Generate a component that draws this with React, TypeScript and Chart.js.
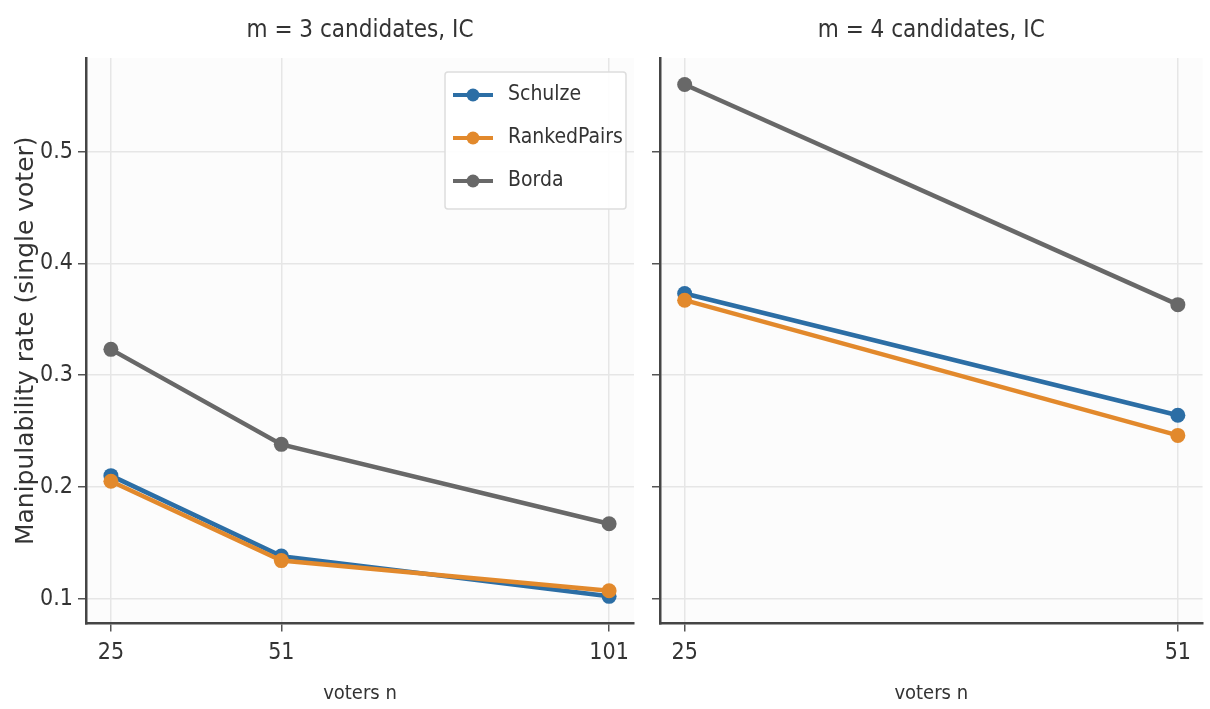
import React, { useEffect, useRef } from "react";
import { Chart, registerables } from "chart.js";

Chart.register(...registerables);

// ---------- data ----------
const seriesNames = ["Schulze", "RankedPairs", "Borda"];
const seriesColors = ["#2c6ea5", "#e2892c", "#686868"];

const votersM3 = [25, 51, 101];
const schulzeM3 = [0.21, 0.138, 0.102];
const rankedPairsM3 = [0.205, 0.134, 0.107];
const bordaM3 = [0.323, 0.238, 0.167];

const votersM4 = [25, 51];
const schulzeM4 = [0.373, 0.264];
const rankedPairsM4 = [0.367, 0.246];
const bordaM4 = [0.56, 0.363];

const yTicks = [0.1, 0.2, 0.3, 0.4, 0.5];
const panelTitles = ["m = 3 candidates, IC", "m = 4 candidates, IC"];
const xAxisLabel = "voters n";
const yAxisLabel = "Manipulability rate (single voter)";

// ---------- styling ----------
const NARROW = "'Liberation Sans Narrow', 'DejaVu Sans Condensed', 'Liberation Sans', sans-serif";
const WIDE = "'DejaVu Sans', 'Liberation Sans', sans-serif";
const TEXT = "#333333";

const bgPlugin = {
  id: "plotBg",
  beforeDraw(chart: any) {
    const { ctx, chartArea } = chart;
    ctx.save();
    ctx.fillStyle = "#ffffff";
    ctx.fillRect(0, 0, chart.width, chart.height);
    ctx.fillStyle = "#fcfcfc";
    ctx.fillRect(chartArea.left, chartArea.top, chartArea.right - chartArea.left, chartArea.bottom - chartArea.top);
    ctx.restore();
  },
};

const legendPlugin = {
  id: "boxLegend",
  afterDraw(chart: any) {
    const { ctx, chartArea } = chart;
    const boxRight = chartArea.right - 8;
    const boxLeft = boxRight - 181;
    const boxTop = chartArea.top + 14;
    const boxH = 137;
    ctx.save();
    ctx.beginPath();
    ctx.roundRect(boxLeft, boxTop, boxRight - boxLeft, boxH, 3);
    ctx.fillStyle = "rgba(255,255,255,0.9)";
    ctx.fill();
    ctx.strokeStyle = "#dddddd";
    ctx.lineWidth = 1.5;
    ctx.stroke();
    seriesNames.forEach((name, i) => {
      const y = boxTop + 23 + i * 43;
      ctx.strokeStyle = seriesColors[i];
      ctx.lineWidth = 4;
      ctx.beginPath();
      ctx.moveTo(boxLeft + 8, y);
      ctx.lineTo(boxLeft + 48, y);
      ctx.stroke();
      ctx.fillStyle = seriesColors[i];
      ctx.beginPath();
      ctx.arc(boxLeft + 28, y, 6.5, 0, Math.PI * 2);
      ctx.fill();
      ctx.fillStyle = TEXT;
      ctx.font = `21px ${NARROW}`;
      ctx.textBaseline = "middle";
      ctx.textAlign = "left";
      ctx.fillText(name, boxLeft + 63, y);
    });
    ctx.restore();
  },
};

function makeDatasets(xs: number[], series: number[][]) {
  return series.map((vals, i) => ({
    label: seriesNames[i],
    data: vals.map((v, k) => ({ x: xs[k], y: v })),
    borderColor: seriesColors[i],
    backgroundColor: seriesColors[i],
    borderWidth: 4.5,
    pointRadius: 7.5,
    pointBorderWidth: 0,
    pointHoverRadius: 7.5,
    order: 3 - i,
    tension: 0,
  }));
}

function makeConfig(panel: number): any {
  const xs = panel === 0 ? votersM3 : votersM4;
  const series = panel === 0 ? [schulzeM3, rankedPairsM3, bordaM3] : [schulzeM4, rankedPairsM4, bordaM4];
  const span = xs[xs.length - 1] - xs[0];
  const yAxisWidth = panel === 0 ? 86 : 12;
  return {
    type: "line",
    data: { datasets: makeDatasets(xs, series) },
    plugins: panel === 0 ? [bgPlugin, legendPlugin] : [bgPlugin],
    options: {
      animation: false,
      responsive: false,
      devicePixelRatio: 1,
      layout: { padding: { left: 0, right: panel === 0 ? 14 : 0, top: 0, bottom: 0 } },
      plugins: {
        legend: { display: false },
        tooltip: { enabled: false },
        title: {
          display: true,
          text: panelTitles[panel],
          fullSize: false,
          color: TEXT,
          font: { family: NARROW, size: 24, weight: "normal", lineHeight: 1.2 },
          padding: { top: 16, bottom: 13.2 },
        },
      },
      scales: {
        x: {
          type: "linear",
          min: xs[0] - span * 0.05,
          max: xs[xs.length - 1] + span * 0.05,
          afterBuildTicks: (scale: any) => {
            scale.ticks = xs.map((v) => ({ value: v }));
          },
          afterFit: (scale: any) => {
            scale.height = 85.5;
          },
          ticks: {
            color: TEXT,
            padding: 8,
            font: { family: NARROW, size: 23 },
            callback: (v: any) => String(v),
            maxRotation: 0,
          },
          grid: {
            color: "#e6e6e6",
            lineWidth: 1.5,
            drawTicks: true,
            tickLength: 8,
            tickColor: "#555555",
            tickWidth: 1.5,
          },
          border: { display: true, color: "#454545", width: 2.5 },
          title: {
            display: true,
            text: xAxisLabel,
            color: TEXT,
            font: { family: NARROW, size: 20, lineHeight: 1.2 },
            padding: { top: 0, bottom: 3 },
          },
        },
        y: {
          type: "linear",
          min: 0.0777,
          max: 0.5837,
          afterBuildTicks: (scale: any) => {
            scale.ticks = yTicks.map((v) => ({ value: v }));
          },
          afterFit: (scale: any) => {
            scale.width = yAxisWidth;
          },
          ticks: {
            display: panel === 0,
            color: TEXT,
            padding: 5,
            font: { family: NARROW, size: 23 },
            callback: (v: any) => Number(v).toFixed(1),
          },
          grid: {
            color: "#e6e6e6",
            lineWidth: 1.5,
            drawTicks: true,
            tickLength: 8,
            tickColor: "#555555",
            tickWidth: 1.5,
          },
          border: { display: true, color: "#454545", width: 2.5 },
          title: {
            display: panel === 0,
            text: yAxisLabel,
            color: TEXT,
            font: { family: WIDE, size: 25, lineHeight: 1.2 },
            padding: { top: 11, bottom: 0 },
          },
        },
      },
    },
  };
}

function Panel({ panel, left, width }: { panel: number; left: number; width: number }) {
  const ref = useRef<HTMLCanvasElement | null>(null);
  useEffect(() => {
    if (!ref.current) return;
    const chart = new Chart(ref.current, makeConfig(panel));
    return () => chart.destroy();
  }, [panel]);
  return (
    <canvas
      ref={ref}
      width={width}
      height={709}
      style={{ position: "absolute", left, top: 0, width, height: 709, display: "block" }}
    />
  );
}

export default function App() {
  return (
    <div style={{ position: "fixed", left: 0, top: 0, width: 1210, height: 709, background: "#ffffff", overflow: "hidden" }}>
      <Panel panel={0} left={0} width={648} />
      <Panel panel={1} left={648} width={562} />
    </div>
  );
}
